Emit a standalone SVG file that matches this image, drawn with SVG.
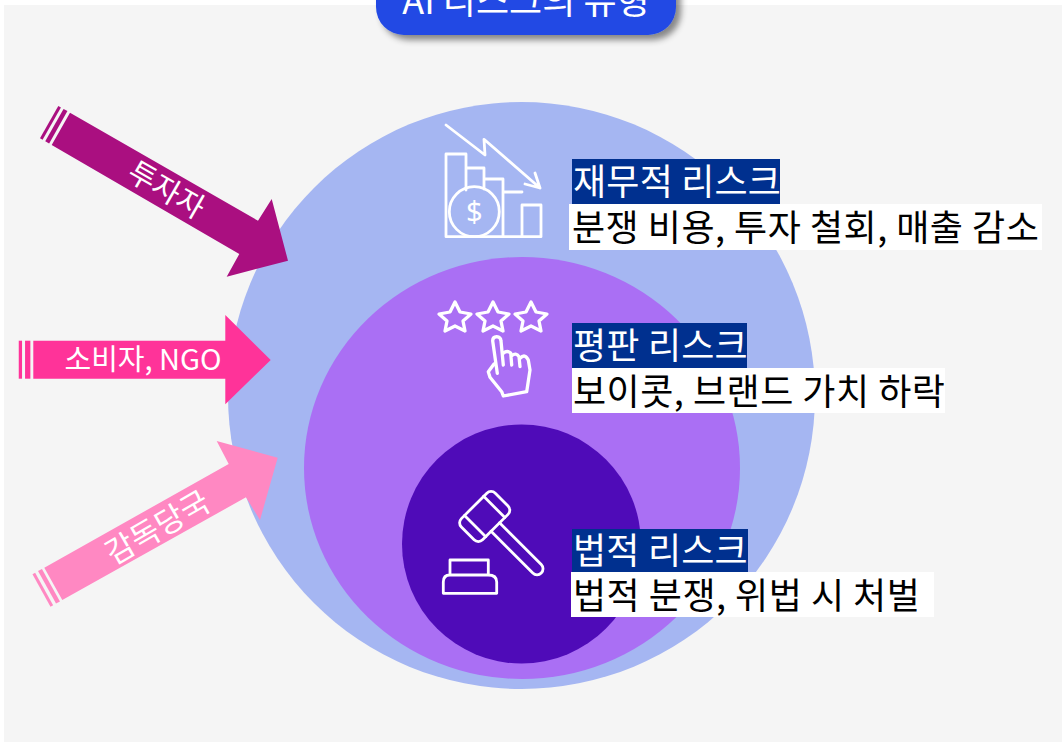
<svg xmlns="http://www.w3.org/2000/svg" width="1062" height="742" viewBox="0 0 1062 742">
<style>
text{font-family:"Noto Sans CJK KR","Noto Sans",sans-serif}
.t{font-size:36px;fill:#000;letter-spacing:.5px}
.h{font-size:36px;fill:#fff;letter-spacing:.2px}
.a{font-size:29px;fill:#fff;text-anchor:middle}
.i{fill:none;stroke:#fff;stroke-width:2.800;stroke-linejoin:round;stroke-linecap:round}
.b{stroke-width:3.300}
</style>
<defs><filter id="s" x="-10%" y="-30%" width="120%" height="170%"><feDropShadow dx="5" dy="5" stdDeviation="3" flood-color="#000" flood-opacity=".45"/></filter></defs>
<rect width="1062" height="742" fill="#fff"/>
<rect x="4" y="5" width="1058" height="737" fill="#f5f5f5"/>
<g id="title"><rect x="376" y="-40" width="300" height="75" rx="28" fill="#2149e4" filter="url(#s)"/><text x="526" y="14" fill="#fff" text-anchor="middle" font-size="36">AI 리스크의 유형</text></g>
<g id="outer"><circle cx="521.5" cy="395.500" r="293.500" fill="#a5b6f2"/></g>
<g id="middle"><ellipse cx="522" cy="468" rx="218" ry="211" fill="#aa6ff4"/></g>
<g id="inner"><circle cx="521.500" cy="544" r="119.500" fill="#4f0bb8"/></g>
<g id="connectors">
<g id="a1"><path d="M70 112.700L258 220.700 271.700 199 288 260.700 226.700 276.700 239.300 254 51.700 145Z" fill="#aa0f80"/><path d="M65.500 110L47.200 142.400" stroke="#aa0f80" stroke-width="4.500"/><path d="M59.600 106.700L41.300 139" stroke="#aa0f80" stroke-width="3"/><text class="a" transform="translate(161 199) rotate(30)" style="font-size:30px">투자자</text></g>
<g id="a2"><path d="M33.300 340.700H225.300V315L270.700 360 225.300 404.300V378.700H33.300Z" fill="#ff3399"/><path d="M27.700 340.700V378.700" stroke="#ff3399" stroke-width="5.300"/><path d="M20.400 340.700V378.700" stroke="#ff3399" stroke-width="3.300"/><text class="a" x="143" y="370">소비자, NGO</text></g>
<g id="a3"><path d="M44.300 567.700L228.700 464 216.700 441 277.700 457.700 260 520 246 497.300 62.300 600Z" fill="#ff88c2"/><path d="M40 570L58 602.500" stroke="#ff88c2" stroke-width="4.500"/><path d="M33.800 573.600L51.800 606" stroke="#ff88c2" stroke-width="3"/><text class="a" transform="translate(163 537) rotate(-30)" style="font-size:31px">감독당국</text></g>
</g>
<g id="financial">
<path class="i" d="M466 190V154H446V236.700H541V205H522V236.700M522 192H503M503 236.700V179H484V189M484 179V168H466"/>
<circle class="i" cx="474.300" cy="211.700" r="25"/>
<text x="474.300" y="222" fill="#fff" text-anchor="middle" font-size="29" style="font-family:'Noto Sans',sans-serif">$</text>
<path class="i" d="M446 125L485 155 484 139.300 540 188M540 188L525 184M540 188L535 173"/>
<rect x="572" y="159" width="208" height="45" fill="#00308f"/><rect x="569" y="204" width="473" height="46" fill="#fff"/>
<text class="h" x="573" y="195">재무적 리스크</text><text class="t" x="572" y="241">분쟁 비용, 투자 철회, 매출 감소</text>
</g>
<g id="reputation">
<path class="i b" d="M455 302L460 312 471 314 463 321 465 331 455 326 445 331 447 321 439 314 450 312Z"/>
<path class="i b" d="M493 302L498 312 509 314 501 321 503 331 493 326 483 331 485 321 477 314 488 312Z"/>
<path class="i b" d="M531 302L536 312 547 314 539 321 541 331 531 326 521 331 523 321 515 314 526 312Z"/>
<path class="i b" d="M497.300 373.300L492.700 341Q492.500 337 496.700 336.700 500.800 337 501 341L503.300 365M503.300 353.300Q507 350 510.700 353L511.700 365M511.700 355.700Q516 352 519 356.700L520 366.700M520 358.300Q525 353 528.300 360L530 370 526.700 391.700 503.300 396 501.700 391.700 490 377.300 488.300 371.700 494 364"/>
<rect x="572" y="323" width="175" height="45" fill="#00308f"/><rect x="572" y="368" width="373" height="45" fill="#fff"/>
<text class="h" x="573" y="359">평판 리스크</text><text class="t" x="573" y="405">보이콧, 브랜드 가치 하락</text>
</g>
<g id="legal">
<g transform="translate(484.700 516.500) rotate(45)"><rect class="i" x="-15" y="-24" width="30" height="48" rx="6"/><path class="i" d="M-15-13.500H15M-15 13.500H15M15-6H74A6 6 0 0 1 74 6H15"/></g>
<path class="i" d="M450 574V560H488.300V574M443.300 593.300V582Q443.300 575 450 575H488Q496.700 575 496.700 582V593.300Z"/>
<rect x="572" y="529" width="176" height="43" fill="#00308f"/><rect x="571" y="572" width="363" height="45" fill="#fff"/>
<text class="h" x="573" y="564">법적 리스크</text><text class="t" x="573" y="609">법적 분쟁, 위법 시 처벌</text>
</g>
</svg>
